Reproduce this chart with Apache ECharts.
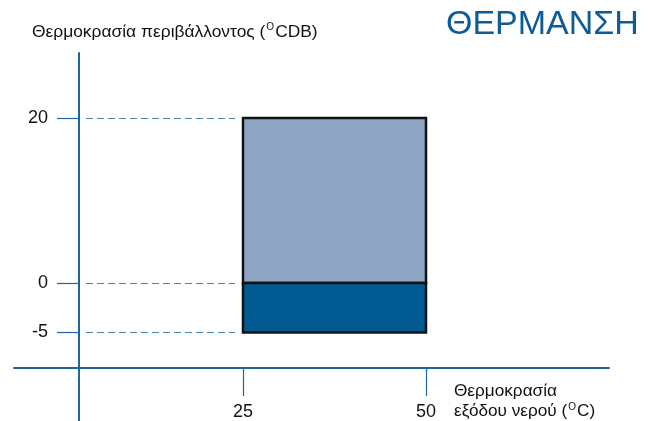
<!DOCTYPE html>
<html>
<head>
<meta charset="utf-8">
<script src="https://cdn.jsdelivr.net/npm/echarts@6/dist/echarts.min.js"></script>
<style>html,body{margin:0;padding:0;background:#fff}#c{width:655px;height:421px}</style>
</head>
<body>
<div id="c"></div>
<script>
// ---- data ----
const xTickValues = [25, 50];
const upperTicks = [0, 20];
const lowerTicks = [-5, 0];
const waterRange = [25, 50];          // x extent of the operating zone
const upperZone = [0, 20];            // ambient range, upper band
const lowerZone = [-5, 0];            // ambient range, lower band
const yAxisTitle = 'Θερμοκρασία περιβάλλοντος (';
const yAxisTitleUnit = 'CDB)';
const xAxisTitleLine1 = 'Θερμοκρασία';
const xAxisTitleLine2 = 'εξόδου νερού (';
const xAxisTitleUnit = 'C)';
const chartTitle = 'ΘΕΡΜΑΝΣΗ';

// ---- layout ----
const FONT = '"Liberation Sans", Arial, Helvetica, sans-serif';
const AXIS = '#1F64A0';
const PX25 = 243, PX50 = 426;
const ppu = (PX50 - PX25) / (xTickValues[1] - xTickValues[0]);
const valAt = px => xTickValues[0] + (px - PX25) / ppu;

const frame = {left: 14, right: 655 - 609, top: 53, bottom: 0};
const bandLeft = 86, bandRight = 235;
const yAxisX = 79;
const y20 = 118, y0 = 283, yM5 = 332.5;

const chart = echarts.init(document.getElementById('c'), null, {renderer: 'canvas'});

function rectRenderer(fill) {
  return function (params, api) {
    const p1 = api.coord([api.value(0), api.value(3)]);
    const p2 = api.coord([api.value(1), api.value(2)]);
    return {
      type: 'rect',
      shape: {x: p1[0], y: p1[1], width: p2[0] - p1[0], height: p2[1] - p1[1]},
      style: {fill: fill, stroke: '#111', lineWidth: 2.5}
    };
  };
}

const bandYAxis = (min, max, interval, hideMax) => ({
  type: 'value', min: min, max: max, interval: interval,
  position: 'left', offset: bandLeft - yAxisX,
  axisLine: {show: false},
  axisTick: {show: true, length: 22, lineStyle: {color: AXIS, width: 1.2}},
  axisLabel: {show: true, margin: 31, color: '#111', fontSize: 18, fontFamily: FONT, showMaxLabel: !hideMax},
  splitLine: {show: true, showMaxLine: !hideMax, lineStyle: {color: '#4A82B0', width: 1.2, type: [7, 4]}}
});

const hiddenX = (gi) => ({
  type: 'value', gridIndex: gi, min: valAt(bandLeft), max: valAt(bandRight),
  show: false, splitLine: {show: false}
});

const txt = (size, lh) => ({fontSize: size, fontWeight: 'normal', fontFamily: FONT, color: '#111', lineHeight: lh});
const sup = (lh, pad) => ({fontSize: 10, fontWeight: 'normal', fontFamily: FONT, color: '#111', lineHeight: lh, verticalAlign: 'top', padding: pad});

chart.setOption({
  animation: false,
  backgroundColor: '#fff',
  title: [
    {
      left: 32, top: 22.5, padding: 0,
      text: '{a|' + yAxisTitle + '}{s|O}{a|' + yAxisTitleUnit + '}',
      textStyle: {fontWeight: 'normal', rich: {a: txt(17.4, 19), s: sup(19, [0, 1, 0, 1])}}
    },
    {
      left: 446, top: 8, padding: 0,
      text: chartTitle,
      textStyle: {fontSize: 34, fontWeight: 'normal', fontFamily: FONT, color: '#0D5C96'}
    },
    {
      left: 454, top: 382, padding: 0,
      text: '{a|' + xAxisTitleLine1 + '}\n{a|' + xAxisTitleLine2 + '}{s|O}{a|' + xAxisTitleUnit + '}',
      textStyle: {fontWeight: 'normal', rich: {a: txt(17.2, 19.5), s: sup(19.5, [1, 1, 0, 1])}}
    }
  ],
  grid: [
    {left: frame.left, right: frame.right, top: frame.top, bottom: frame.bottom},
    {left: bandLeft, width: bandRight - bandLeft, top: y20, height: y0 - y20},
    {left: bandLeft, width: bandRight - bandLeft, top: y0, height: yM5 - y0}
  ],
  xAxis: [
    {
      type: 'value', gridIndex: 0, min: valAt(frame.left), max: valAt(655 - frame.right),
      position: 'bottom', offset: -(421 - 368),
      axisLine: {show: true, onZero: false, lineStyle: {color: AXIS, width: 2}},
      axisTick: {show: true, length: 28, customValues: xTickValues, lineStyle: {color: AXIS, width: 1.2}},
      axisLabel: {show: true, customValues: xTickValues, margin: 35, color: '#111', fontSize: 18, fontFamily: FONT},
      splitLine: {show: false}
    },
    hiddenX(1),
    hiddenX(2)
  ],
  yAxis: [
    {
      type: 'value', gridIndex: 0, min: 0, max: 1, position: 'left', offset: frame.left - yAxisX,
      axisLine: {show: true, onZero: false, lineStyle: {color: AXIS, width: 2}},
      axisTick: {show: false}, axisLabel: {show: false}, splitLine: {show: false}
    },
    Object.assign({gridIndex: 1}, bandYAxis(upperTicks[0], upperTicks[1], upperTicks[1] - upperTicks[0], false)),
    Object.assign({gridIndex: 2}, bandYAxis(lowerTicks[0], lowerTicks[1], lowerTicks[1] - lowerTicks[0], true))
  ],
  series: [
    {
      type: 'custom', xAxisIndex: 1, yAxisIndex: 1, clip: false, z: 5,
      renderItem: rectRenderer('#8EA4C3'),
      data: [[waterRange[0], waterRange[1], upperZone[0], upperZone[1]]]
    },
    {
      type: 'custom', xAxisIndex: 2, yAxisIndex: 2, clip: false, z: 5,
      renderItem: rectRenderer('#005A91'),
      data: [[waterRange[0], waterRange[1], lowerZone[0], lowerZone[1]]]
    }
  ]
});
</script>
</body>
</html>
